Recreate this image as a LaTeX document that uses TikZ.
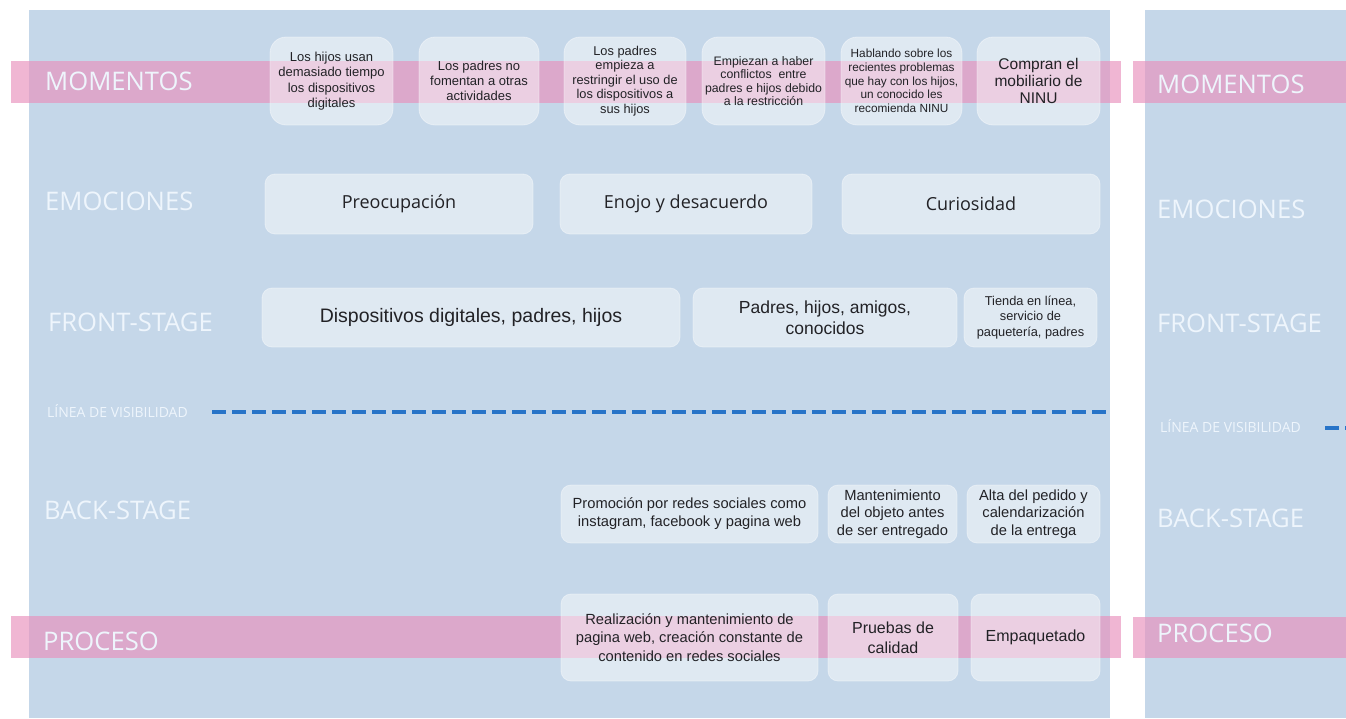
\documentclass[tikz,border=0pt]{standalone}
\usepackage{fontspec}
\setmainfont{Liberation Sans}
\newfontfamily\labfont{Open Sans}
\definecolor{panel}{RGB}{197,215,233}
\definecolor{pinkc}{RGB}{233,143,188}
\definecolor{labc}{RGB}{238,245,252}
\definecolor{txt}{RGB}{34,34,38}
\definecolor{dashc}{RGB}{40,116,200}
\newcommand{\fsz}[2]{\fontsize{#1}{#2}\selectfont}
\begin{document}
\begin{tikzpicture}[x=1pt,y=-1pt,
 bx/.style={rounded corners=10pt, fill=white, fill opacity=0.45, draw=white, draw opacity=0.4, line width=0.8pt, text opacity=1, text=txt, align=center, inner sep=2pt},
 mbx/.style={bx, rounded corners=16pt, minimum height=88pt},
 ebx/.style={bx, minimum height=60pt, font=\labfont\fsz{18}{22}},
 fbx/.style={bx, minimum height=59pt},
 bbx/.style={bx, minimum height=58pt},
 pbx/.style={bx, minimum height=87pt},
 lbl/.style={font=\labfont\fsz{25.6}{30}, text=labc, inner sep=0pt, anchor=base west},
 smalllbl/.style={font=\labfont\fsz{14}{16}, text=labc, inner sep=0pt, anchor=base west},
 band/.style={fill=pinkc, fill opacity=0.65},
 vis/.style={dashc, line width=3.5pt, dash pattern=on 14pt off 6pt}
]
\useasboundingbox (0,0) rectangle (1346,718);
\fill[white] (0,0) rectangle (1346,718);
% panels
\fill[panel] (29,10) rectangle (1110,718);
\fill[panel] (1145,10) rectangle (1346,718);
% bands
\fill[band] (11,61) rectangle (1121,103);
\fill[band] (1133,61) rectangle (1346,103);
\fill[band] (11,616) rectangle (1121,658);
\fill[band] (1133,617) rectangle (1346,658);

% MOMENTOS boxes
\node[mbx, minimum width=123pt, font=\fsz{13}{15.3}] (m1) at (331.5,81) {Los hijos usan\\demasiado tiempo\\los dispositivos\\digitales};
\node[mbx, minimum width=120pt, font=\fsz{13}{15.3}] (m2) at (479,81) {Los padres no\\fomentan a otras\\actividades};
\node[mbx, minimum width=122pt, font=\fsz{12.8}{14.5}] (m3) at (625,81) {Los padres\\empieza a\\restringir el uso de\\los dispositivos a\\sus hijos};
\node[mbx, minimum width=123pt, font=\fsz{12.3}{13.5}] (m4) at (763.5,81) {Empiezan a haber\\conflictos\ \ entre\\padres e hijos debido\\a la restricción};
\node[mbx, minimum width=121pt, font=\fsz{11.8}{13.7}] (m5) at (901.5,81) {Hablando sobre los\\recientes problemas\\que hay con los hijos,\\un conocido les\\recomienda NINU};
\node[mbx, minimum width=123pt, font=\fsz{15.5}{17}] (m6) at (1038.5,81) {Compran el\\mobiliario de\\NINU};

% EMOCIONES boxes
\node[ebx, minimum width=268pt] (e1) at (399,204) {Preocupación};
\node[ebx, minimum width=252pt] (e2) at (686,204) {Enojo y desacuerdo};
\node[ebx, minimum width=258pt] (e3) at (971,204) {Curiosidad};

% FRONT-STAGE boxes
\node[fbx, minimum width=418pt, font=\fsz{19.5}{22}] (f1) at (471,317.5) {Dispositivos digitales, padres, hijos};
\node[fbx, minimum width=264pt, font=\fsz{17.5}{21}] (f2) at (825,317.5) {Padres, hijos, amigos,\\conocidos};
\node[fbx, minimum width=133pt, font=\fsz{12.8}{15.5}] (f3) at (1030.5,317.5) {Tienda en línea,\\servicio de\\paquetería, padres};

% BACK-STAGE boxes
\node[bbx, minimum width=257pt, font=\fsz{14.7}{18}] (b1) at (689.5,514) {Promoción por redes sociales como\\instagram, facebook y pagina web};
\node[bbx, minimum width=129pt, font=\fsz{14.7}{17.5}] (b2) at (892.5,514) {Mantenimiento\\del objeto antes\\de ser entregado};
\node[bbx, minimum width=133pt, font=\fsz{14.7}{17.5}] (b3) at (1033.5,514) {Alta del pedido y\\calendarización\\de la entrega};

% PROCESO boxes
\node[pbx, minimum width=257pt, font=\fsz{14.7}{18.3}] (p1) at (689.5,637.5) {Realización y mantenimiento de\\pagina web, creación constante de\\contenido en redes sociales};
\node[pbx, minimum width=130pt, font=\fsz{16}{20}] (p2) at (893,637.5) {Pruebas de\\calidad};
\node[pbx, minimum width=129pt, font=\fsz{16}{20}] (p3) at (1035.5,637.5) {Empaquetado};

% line of visibility
\coordinate (v1) at (212,412);
\coordinate (v2) at (1110,412);
\draw[vis] (v1) -- (v2);
\coordinate (w1) at (1325,428);
\coordinate (w2) at (1346,428);
\draw[vis] (w1) -- (w2);

% left labels
\node[lbl] (lm) at (45,90) {MOMENTOS};
\node[lbl] (le) at (45,210.5) {EMOCIONES};
\node[lbl] (lf) at (48,331) {FRONT-STAGE};
\node[smalllbl] (lv) at (47,417) {LÍNEA DE VISIBILIDAD};
\node[lbl] (lb) at (44,519.5) {BACK-STAGE};
\node[lbl] (lp) at (43,650) {PROCESO};

% right labels
\node[lbl] (rm) at (1157,93) {MOMENTOS};
\node[lbl] (re) at (1157,218) {EMOCIONES};
\node[lbl] (rf) at (1157,332) {FRONT-STAGE};
\node[smalllbl] (rv) at (1160,432) {LÍNEA DE VISIBILIDAD};
\node[lbl] (rb) at (1157,527) {BACK-STAGE};
\node[lbl] (rp) at (1157,642) {PROCESO};
\end{tikzpicture}
\end{document}
